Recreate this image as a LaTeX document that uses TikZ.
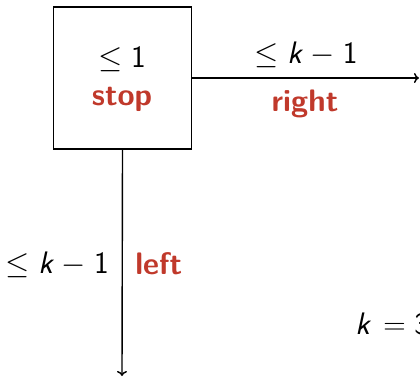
\documentclass[tikz,border=0pt]{standalone}
\usetikzlibrary{arrows.meta}
\definecolor{alertred}{RGB}{192,57,43}
\newcommand{\kvar}{\mbox{\sffamily\itshape k}}
\newcommand{\sone}{\mbox{\sffamily 1}}
\newcommand{\sthree}{\mbox{\sffamily 3}}
\tikzset{
  lbl/.style={font=\fontsize{24.88}{30}\selectfont\sffamily, inner sep=0pt, transform shape, scale=1.25},
  alertlbl/.style={lbl, text=alertred, font=\fontsize{24.88}{30}\selectfont\sffamily\bfseries},
  conn/.style={line width=1.4pt, -{To[length=5pt,width=10pt]}},
  boxst/.style={draw, line width=1.8pt, minimum width=138pt, minimum height=142pt, inner sep=0pt}
}
\begin{document}
\begin{tikzpicture}[x=1pt,y=-1pt]
\useasboundingbox (0,0) rectangle (420,378);
\node[boxst] (box) at (122.5,78) {};
\node[lbl, anchor=base] (one) at (122,67) {$\leq \sone$};
\node[alertlbl, anchor=base] (stop) at (122,105) {stop};
\coordinate (rend) at (419,78);
\coordinate (dend) at (122,376);
\draw[conn] (box.east) -- (rend);
\draw[conn] (box.south) -- (dend);
\node[lbl, anchor=base] (rk) at (306,63) {$\leq \kvar \mathrel{-} \sone$};
\node[alertlbl, anchor=base] (rlab) at (305,111) {right};
\node[lbl, anchor=base east] (lk) at (109,273) {$\leq \kvar \mathrel{-} \sone$};
\node[alertlbl, anchor=base west] (llab) at (135,274) {left};
\node[lbl, anchor=base west] (keq) at (355,334) {$\kvar \mathrel{\,=} \sthree$};
\end{tikzpicture}
\end{document}
